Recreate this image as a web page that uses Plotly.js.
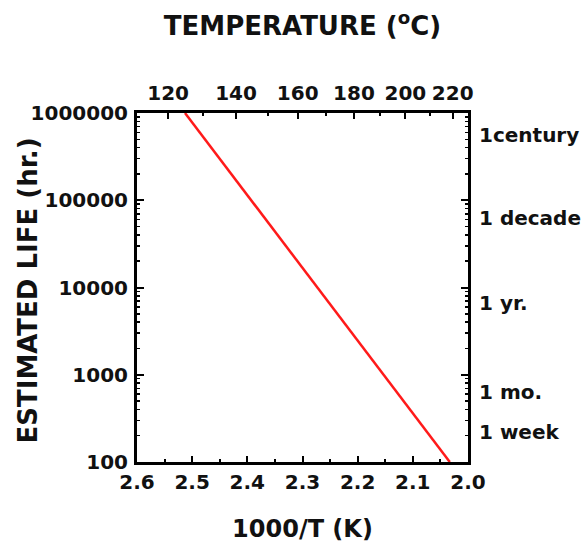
<!DOCTYPE html>
<html>
<head>
<meta charset="utf-8">
<script src="https://cdn.plot.ly/plotly-3.0.1.min.js"></script>
<style>
  html, body { margin: 0; padding: 0; background: #fff; }
  #chart { width: 588px; height: 545px; }
</style>
</head>
<body>
<div id="chart"></div>
<script>
// Arrhenius life line: reciprocal temperature vs. estimated life
const inverseTemp = [2.513, 2.033];      // 1000/T (K)
const lifeHours = [1000000, 100];        // estimated life (hr.)

// Temperature scale (°C) shown along the top edge
const tempMajorC = [120, 140, 160, 180, 200, 220];
const tempMinorC = [130, 150, 170, 190, 210];

// Time-span labels along the right edge, anchored at life (hr.) positions
const spanLabels = ['1century', '1 decade', '1 yr.', '1 mo.', '1 week'];
const spanAnchorHours = [560000, 63000, 6600, 630, 220];

const toInvT = c => 1000 / (c + 273.15);

const FONT = { family: 'DejaVu Sans', weight: 'bold', color: '#111' };
const tickFont = Object.assign({}, FONT, { size: 20 });
const titleFont = Object.assign({}, FONT, { size: 24 });

const traces = [
  {
    x: inverseTemp, y: lifeHours,
    xaxis: 'x', yaxis: 'y',
    mode: 'lines',
    line: { color: '#ff1a1a', width: 2.5 },
    hoverinfo: 'skip', showlegend: false
  },
  {
    // carrier for the temperature and time-span axes
    x: inverseTemp, y: lifeHours,
    xaxis: 'x2', yaxis: 'y2',
    mode: 'none',
    hoverinfo: 'skip', showlegend: false
  }
];

const layout = {
  width: 588, height: 545,
  margin: { l: 137, r: 120, t: 113, b: 83 },
  paper_bgcolor: '#fff', plot_bgcolor: '#fff',
  showlegend: false,
  xaxis: {
    range: [2.6, 2.0],
    tick0: 2.0, dtick: 0.1, tickformat: '.1f',
    ticks: 'inside', ticklen: 6, tickwidth: 2, tickcolor: '#000',
    minor: { dtick: 0.05, ticks: 'inside', ticklen: 3, tickwidth: 2, tickcolor: '#000' },
    showline: true, linewidth: 3, linecolor: '#000',
    showgrid: false, zeroline: false,
    tickfont: tickFont, ticklabelstandoff: 0,
    title: { text: '1000/T (K)', font: titleFont, standoff: 28 }
  },
  xaxis2: {
    overlaying: 'x', side: 'top', anchor: 'y',
    range: [2.6, 2.0],
    tickmode: 'array',
    tickvals: tempMajorC.map(toInvT),
    ticktext: tempMajorC.map(String),
    ticks: 'inside', ticklen: 6, tickwidth: 2, tickcolor: '#000',
    minor: { tickmode: 'array', tickvals: tempMinorC.map(toInvT), ticks: 'inside', ticklen: 3, tickwidth: 2, tickcolor: '#000' },
    showline: true, linewidth: 3, linecolor: '#000',
    showgrid: false, zeroline: false,
    tickfont: tickFont, ticklabelstandoff: 2,
    title: { text: 'TEMPERATURE (<sup>o</sup>C)', font: Object.assign({}, FONT, { size: 26 }), standoff: 38 }
  },
  yaxis: {
    type: 'log', range: [2, 6],
    dtick: 1, tickformat: 'd', exponentformat: 'none',
    ticks: 'inside', ticklen: 7, tickwidth: 2, tickcolor: '#000',
    minor: { ticks: 'inside', ticklen: 3, tickwidth: 1.5, tickcolor: '#000' },
    showline: true, linewidth: 3, linecolor: '#000', mirror: 'ticks',
    showgrid: false, zeroline: false,
    tickfont: tickFont, ticklabelstandoff: 2
  },
  yaxis2: {
    overlaying: 'y', side: 'right', anchor: 'x',
    type: 'log', range: [2, 6],
    tickmode: 'array', tickvals: spanAnchorHours, ticktext: spanLabels,
    ticks: '', showline: false, showgrid: false, zeroline: false,
    tickfont: tickFont, ticklabelstandoff: 10
  },
  annotations: [
    {
      // vertical life-axis title, sitting just left of the decade labels
      text: 'ESTIMATED LIFE (hr.)',
      xref: 'paper', yref: 'paper',
      x: 0, y: 0.5, xanchor: 'center', yanchor: 'middle',
      xshift: -110, yshift: -3,
      textangle: -90, showarrow: false,
      font: Object.assign({}, FONT, { size: 26 })
    }
  ]
};

Plotly.newPlot('chart', traces, layout, { staticPlot: true, displayModeBar: false });
</script>
</body>
</html>
